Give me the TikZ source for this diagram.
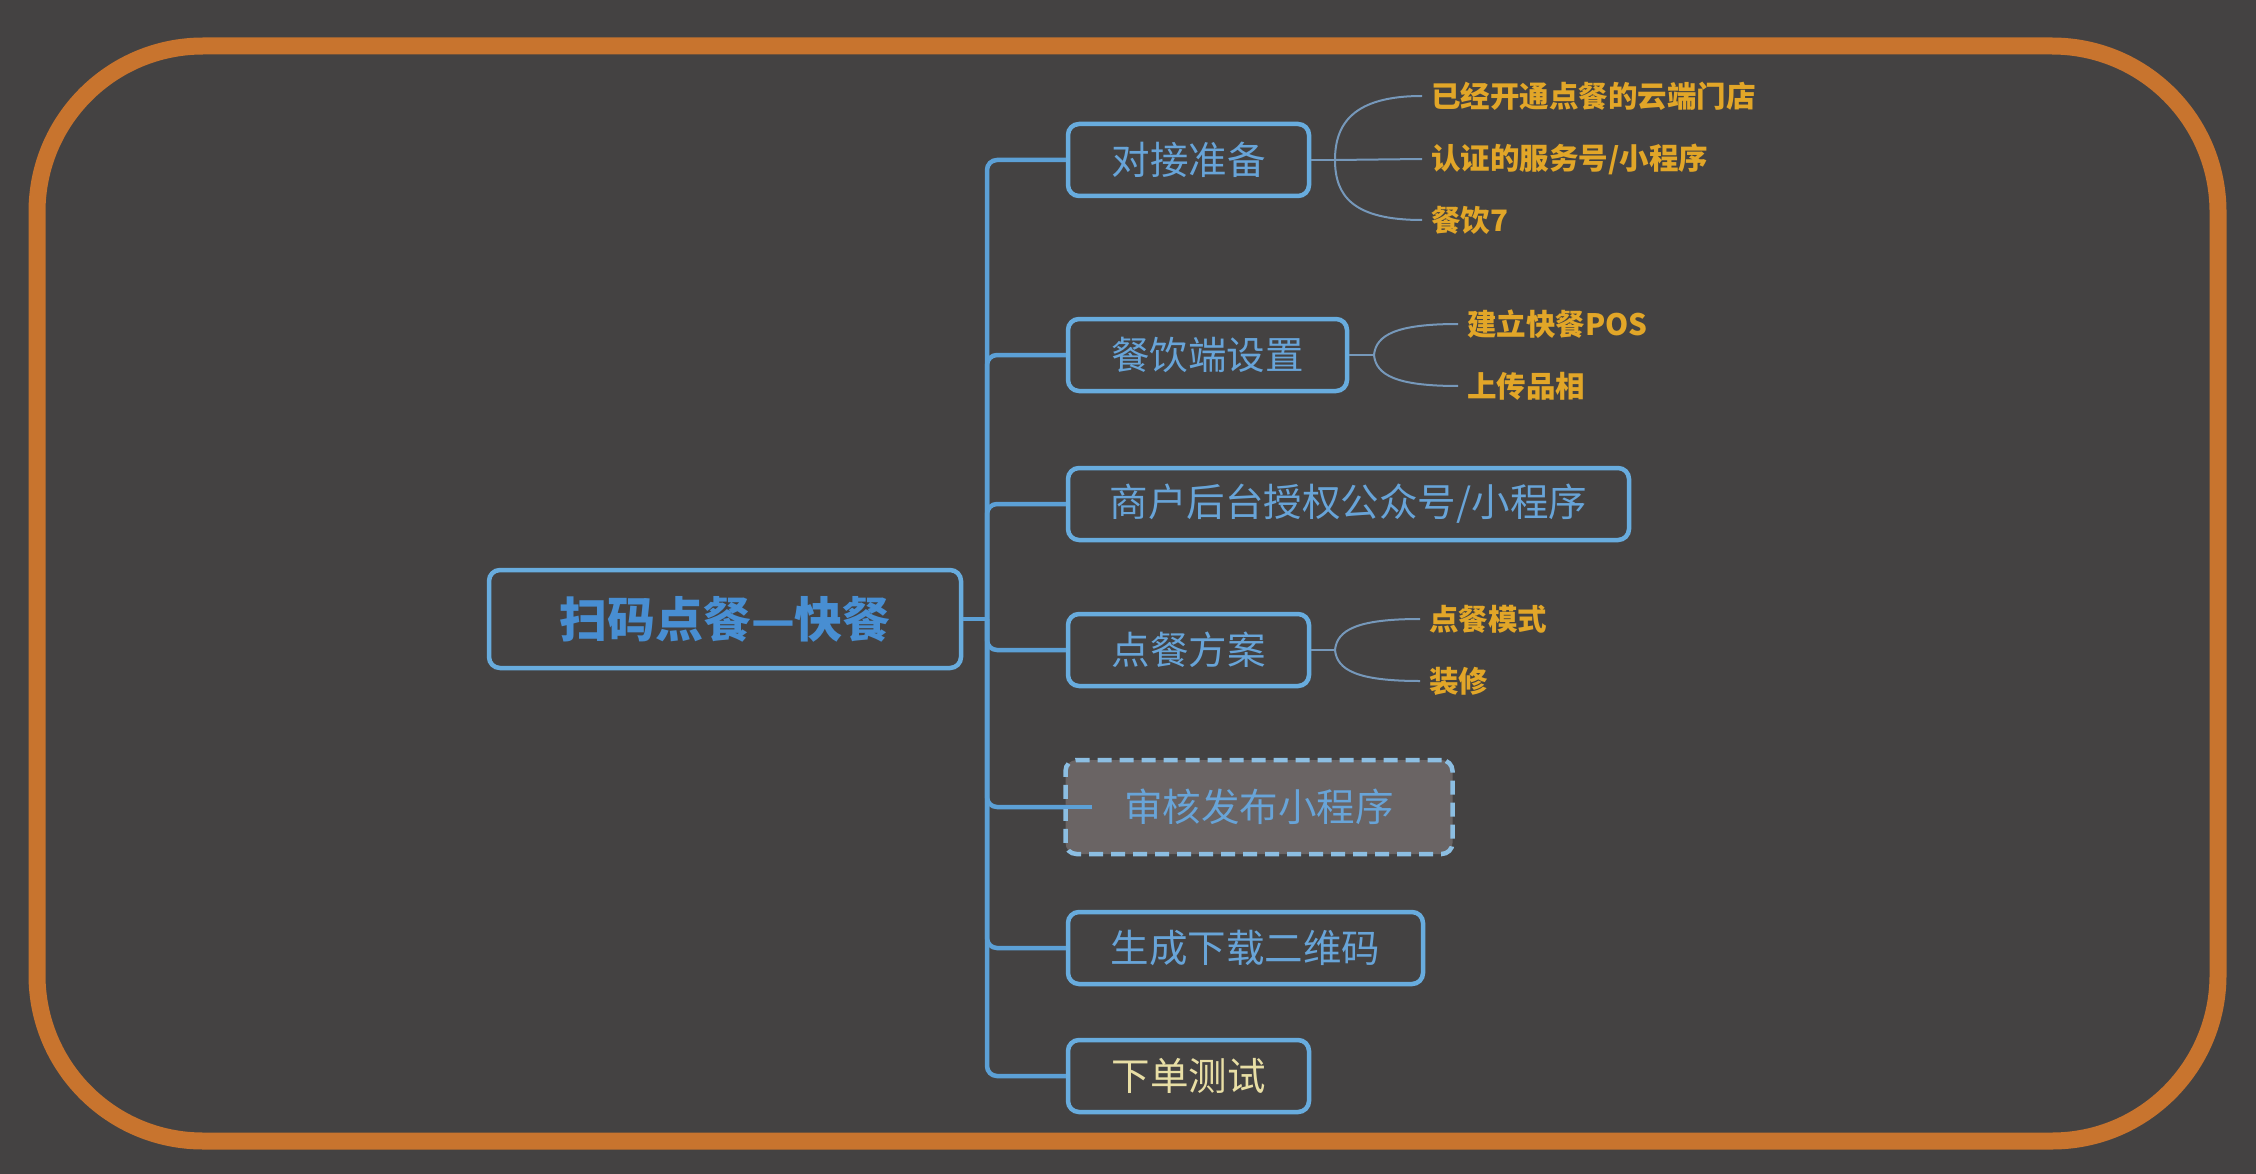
\documentclass[tikz,border=0pt]{standalone}
\usepackage{fontspec}
\setmainfont{Noto Sans CJK SC}
\usetikzlibrary{calc}
\definecolor{bg}{RGB}{68,66,66}
\definecolor{frameorange}{RGB}{200,116,46}
\definecolor{boxblue}{RGB}{104,172,222}
\definecolor{childtxt}{RGB}{104,164,216}
\definecolor{roottxt}{RGB}{72,142,210}
\definecolor{trunkblue}{RGB}{92,160,214}
\definecolor{twigblue}{RGB}{118,152,186}
\definecolor{leafgold}{RGB}{226,166,40}
\definecolor{cream}{RGB}{232,222,165}
\definecolor{dashfill}{RGB}{110,103,103}
\definecolor{dashline}{RGB}{140,190,226}
\begin{document}
\begin{tikzpicture}[x=1pt,y=-1pt,
  box/.style={draw=boxblue, line width=4.5pt, rounded corners=11pt, fill=bg,
    text=childtxt, font=\fontsize{38.5}{40}\selectfont, minimum height=72pt, inner sep=0pt},
  rootbox/.style={box, minimum height=98pt, text=roottxt, font=\fontsize{48}{50}\selectfont\bfseries},
  dashbox/.style={box, draw=dashline, fill=dashfill, dash pattern=on 14pt off 8pt, minimum height=94pt},
  leaf/.style={anchor=west, inner xsep=9pt, inner ysep=0pt, text=leafgold, font=\fontsize{29.5}{31}\selectfont\bfseries},
  trunk/.style={draw=trunkblue, line width=4.5pt, rounded corners=10pt},
  twig/.style={draw=twigblue, line width=2pt},
  frame/.style={draw=frameorange, line width=17pt, rounded corners=166pt}
]
\fill[bg] (0,0) rectangle (2256,1174);
\useasboundingbox (0,0) rectangle (2256,1174);
\draw[frame] (37,46) rectangle (2218,1141);

% root
\node[rootbox, minimum width=472pt] (root) at (725,619) {扫码点餐—快餐};
\coordinate (hub) at (987,619);

% children
\node[box, minimum width=241pt] (c1) at (1188.5,160) {对接准备};
\node[box, minimum width=279pt] (c2) at (1207.5,355) {餐饮端设置};
\node[box, minimum width=561pt] (c3) at (1348.5,504) {商户后台授权公众号/小程序};
\node[box, minimum width=241pt] (c4) at (1188.5,650) {点餐方案};
\node[box, minimum width=355pt] (c6) at (1245.5,948) {生成下载二维码};
\node[box, minimum width=241pt, text=cream] (c7) at (1188.5,1076) {下单测试};

% trunk connectors
\draw[trunk] (root.east) -- (hub);
\foreach \c in {c1,c2,c3,c4,c6,c7}{
  \draw[trunk] (hub) |- (\c.west);
}
\coordinate (c5in) at (1092,807);
\draw[trunk] (hub) |- (c5in);
\node[dashbox, minimum width=387pt, fill opacity=0.92, text opacity=1] (c5) at (1259,807) {审核发布小程序};
\draw[draw=trunkblue, line width=4.5pt] (c5.west) -- (c5in);

% leaves group 1
\coordinate (b1) at (1335,160);
\node[leaf] (l11) at (1422,96) {已经开通点餐的云端门店};
\node[leaf] (l12) at (1422,159) {认证的服务号/小程序};
\node[leaf] (l13) at (1422,220) {餐饮7};
\draw[twig] (c1.east) -- (b1);
\draw[twig] (b1) .. controls ($(b1)+(0,-36)$) and ($(b1 |- l11.west)+(18,0)$) .. (l11.west);
\draw[twig] (b1) -- (l12.west);
\draw[twig] (b1) .. controls ($(b1)+(0,36)$) and ($(b1 |- l13.west)+(18,0)$) .. (l13.west);

% leaves group 2
\coordinate (b2) at (1374,355);
\node[leaf] (l21) at (1458,324) {建立快餐POS};
\node[leaf] (l22) at (1458,386) {上传品相};
\draw[twig] (c2.east) -- (b2);
\draw[twig] (b2) .. controls ($(b2)+(2,-20)$) and ($(b2 |- l21.west)+(22,0)$) .. (l21.west);
\draw[twig] (b2) .. controls ($(b2)+(2,20)$) and ($(b2 |- l22.west)+(22,0)$) .. (l22.west);

% leaves group 4
\coordinate (b4) at (1335,650);
\node[leaf] (l41) at (1420,619) {点餐模式};
\node[leaf] (l42) at (1420,681) {装修};
\draw[twig] (c4.east) -- (b4);
\draw[twig] (b4) .. controls ($(b4)+(2,-20)$) and ($(b4 |- l41.west)+(22,0)$) .. (l41.west);
\draw[twig] (b4) .. controls ($(b4)+(2,20)$) and ($(b4 |- l42.west)+(22,0)$) .. (l42.west);
\end{tikzpicture}
\end{document}
